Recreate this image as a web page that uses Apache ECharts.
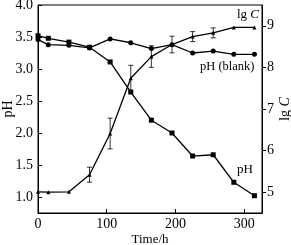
<!DOCTYPE html>
<html>
<head>
<meta charset="utf-8">
<script src="https://cdn.jsdelivr.net/npm/echarts@6/dist/echarts.min.js"></script>
<style>
  html, body { margin: 0; padding: 0; background: #fff; }
  #chart { width: 291px; height: 245px; }
</style>
</head>
<body>
<div id="chart"></div>
<script>
// sampling times (h)
const times = [0, 15, 45, 75, 105, 135, 165, 195, 225, 255, 285, 315];
// pH of the leaching solution (left axis)
const phValues = [3.52, 3.48, 3.42, 3.34, 3.11, 2.64, 2.20, 2.00, 1.64, 1.66, 1.23, 1.02];
// pH of the blank (left axis)
const phBlank = [3.46, 3.38, 3.37, 3.33, 3.47, 3.41, 3.32, 3.38, 3.25, 3.28, 3.23, 3.23];
// lg C (right axis) and its error
const lgC = [5.01, 5.00, 5.01, 5.42, 6.41, 7.74, 8.26, 8.55, 8.74, 8.83, 8.96, 8.96];
const lgCErr = [0, 0, 0, 0.18, 0.37, 0.31, 0.26, 0.2, 0.12, 0.12, 0, 0];

const xTicks = [0, 100, 200, 300];
const phTicks = [1.0, 1.5, 2.0, 2.5, 3.0, 3.5, 4.0];
const lgTicks = [5, 6, 7, 8, 9];

const FONT = "Liberation Serif";
const pairs = (ys) => times.map((t, i) => [t, ys[i]]);

const chart = echarts.init(document.getElementById("chart"), null, { renderer: "canvas" });

const lineStyle = { color: "#000", width: 1.3 };

chart.setOption({
  animation: false,
  grid: {
    left: 38, right: 29, top: 5, bottom: 32,
    outerBoundsMode: "none",
    containLabel: false,
    show: true, borderColor: "#000", borderWidth: 1,
  },
  xAxis: {
    type: "value",
    min: 0,
    max: 326,
    name: "Time/h",
    nameLocation: "middle",
    nameGap: 20,
    nameMoveOverlap: false,
    nameTextStyle: { fontFamily: FONT, fontSize: 13, color: "#000" },
    splitLine: { show: false },
    axisLine: { lineStyle: { color: "#000" } },
    axisTick: { inside: true, length: 4, customValues: xTicks, lineStyle: { color: "#000" } },
    axisLabel: { customValues: xTicks, fontFamily: FONT, fontSize: 14, color: "#000", margin: 4 },
  },
  yAxis: [
    {
      type: "value",
      min: 0.75,
      max: 4.0,
      name: "pH",
      nameLocation: "middle",
      nameGap: 23,
      nameRotate: 90,
      nameMoveOverlap: false,
      nameTextStyle: { fontFamily: FONT, fontSize: 14, color: "#000" },
      splitLine: { show: false },
      axisLine: { lineStyle: { color: "#000" } },
      axisTick: { inside: true, length: 4, customValues: phTicks, lineStyle: { color: "#000" } },
      axisLabel: {
        customValues: phTicks,
        formatter: (v) => v.toFixed(1),
        fontFamily: FONT, fontSize: 14, color: "#000", margin: 5,
      },
    },
    {
      type: "value",
      min: 4.5,
      max: 9.5,
      position: "right",
      name: "{a|lg }{b|C}",
      nameLocation: "middle",
      nameGap: 16,
      nameRotate: 90,
      nameMoveOverlap: false,
      nameTextStyle: {
        fontFamily: FONT, fontSize: 14, color: "#000",
        rich: {
          a: { fontFamily: FONT, fontSize: 14, color: "#000" },
          b: { fontFamily: FONT, fontSize: 14, color: "#000", fontStyle: "italic" },
        },
      },
      splitLine: { show: false },
      axisLine: { lineStyle: { color: "#000" } },
      axisTick: { inside: false, length: 4, customValues: lgTicks, lineStyle: { color: "#000" } },
      axisLabel: { customValues: lgTicks, fontFamily: FONT, fontSize: 14, color: "#000", margin: 5 },
    },
  ],
  graphic: [
    {
      type: "text", left: 237, top: 8,
      style: {
        text: "{a|lg }{b|C}",
        rich: {
          a: { fontFamily: FONT, fontSize: 13, fill: "#000" },
          b: { fontFamily: FONT, fontSize: 13, fill: "#000", fontStyle: "italic" },
        },
      },
    },
    {
      type: "text", left: 200, top: 60,
      style: { text: "pH (blank)", fontFamily: FONT, fontSize: 12.5, fill: "#000" },
    },
    {
      type: "text", left: 237, top: 163,
      style: { text: "pH", fontFamily: FONT, fontSize: 13, fill: "#000" },
    },
  ],
  series: [
    {
      name: "pH",
      type: "line",
      yAxisIndex: 0,
      data: pairs(phValues),
      symbol: "rect",
      symbolSize: 5,
      itemStyle: { color: "#000" },
      lineStyle,
    },
    {
      name: "pH (blank)",
      type: "line",
      yAxisIndex: 0,
      data: pairs(phBlank),
      symbol: "circle",
      symbolSize: 5,
      itemStyle: { color: "#000" },
      lineStyle,
    },
    {
      name: "lg C",
      type: "line",
      yAxisIndex: 1,
      data: pairs(lgC),
      symbol: "triangle",
      symbolSize: 4,
      itemStyle: { color: "#000" },
      lineStyle,
    },
    {
      name: "lg C error",
      type: "custom",
      yAxisIndex: 1,
      data: times.map((t, i) => [t, lgC[i] - lgCErr[i], lgC[i] + lgCErr[i]]).filter((d, i) => lgCErr[i] > 0),
      renderItem: (params, api) => {
        const lo = api.coord([api.value(0), api.value(1)]);
        const hi = api.coord([api.value(0), api.value(2)]);
        const cap = 2.5;
        const style = { stroke: "#000", lineWidth: 0.8 };
        return {
          type: "group",
          children: [
            { type: "line", shape: { x1: lo[0], y1: lo[1], x2: hi[0], y2: hi[1] }, style },
            { type: "line", shape: { x1: lo[0] - cap, y1: lo[1], x2: lo[0] + cap, y2: lo[1] }, style },
            { type: "line", shape: { x1: hi[0] - cap, y1: hi[1], x2: hi[0] + cap, y2: hi[1] }, style },
          ],
        };
      },
      encode: { x: 0, y: [1, 2] },
      z: 3,
    },
  ],
});
</script>
</body>
</html>
